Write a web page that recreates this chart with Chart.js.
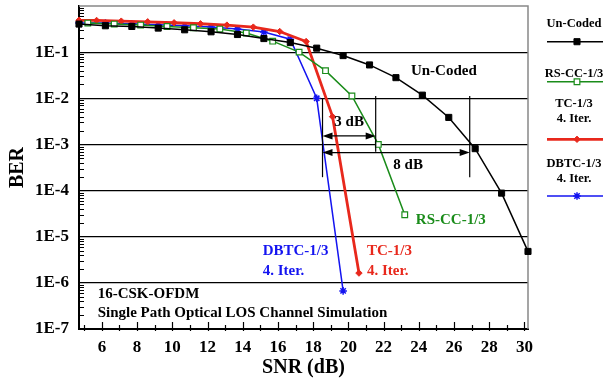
<!DOCTYPE html>
<html>
<head>
<meta charset="utf-8">
<script src="https://cdn.jsdelivr.net/npm/chart.js@4.4.0/dist/chart.umd.min.js"></script>
<style>
html,body{margin:0;padding:0;background:#fff}
canvas{display:block}
</style>
</head>
<body>
<canvas id="berChart" width="607" height="383"></canvas>
<script>
// ---- data ----
const snrUncoded = [4.7,6.2,7.7,9.2,10.7,12.2,13.7,15.2,16.7,18.2,19.7,21.2,22.7,24.2,25.7,27.2,28.7,30.2];
const berUncoded = [0.406,0.373,0.36,0.332,0.305,0.276,0.241,0.197,0.161,0.122,0.0842,0.0528,0.028,0.0117,0.00385,8.1e-4,8.8e-5,4.8e-6];

const snrRsCc = [5.2,6.7,8.2,9.7,11.2,12.7,14.2,15.7,17.2,18.7,20.2,21.7,23.2];
const berRsCc = [0.426,0.406,0.386,0.36,0.337,0.316,0.259,0.173,0.1,0.0397,0.0112,1.0e-3,3.0e-5];

const snrTc = [4.7,5.7,7.1,8.6,10.1,11.6,13.1,14.6,16.1,17.6,19.1,20.6];
const berTc = [0.49,0.486,0.47,0.455,0.433,0.412,0.386,0.349,0.28,0.17,0.004,1.63e-6];

const snrDbtc = [4.7,6.2,7.7,9.2,10.7,12.2,13.7,15.2,16.7,18.2,19.7];
const berDbtc = [0.426,0.426,0.412,0.393,0.373,0.349,0.316,0.272,0.191,0.01,6.7e-7];

const seriesNames = [["Un-Coded"],["RS-CC-1/3"],["TC-1/3","4. Iter."],["DBTC-1/3","4. Iter."]];

const xTickLabels = [6,8,10,12,14,16,18,20,22,24,26,28,30];
const yTickValues = [1e-1,1e-2,1e-3,1e-4,1e-5,1e-6,1e-7];
const yTickLabels = ["1E-1","1E-2","1E-3","1E-4","1E-5","1E-6","1E-7"];

const SERIF = "'Liberation Serif','Times New Roman',serif";
const GREEN = "#1a8c1a", RED = "#e8281c", BLUE = "#1414f0";

function pts(xs, ys){ return xs.map((x,i)=>({x:x, y:ys[i]})); }

// text notes inside the plot (data coordinates)
const notes = [
  {text:"Un-Coded", x:23.55, y:0.039, color:"#000"},
  {text:"RS-CC-1/3", x:23.83, y:2.24e-5, color:GREEN},
  {text:"TC-1/3", x:21.05, y:4.76e-6, color:RED},
  {text:"4. Iter.", x:21.05, y:1.77e-6, color:RED},
  {text:"DBTC-1/3", x:15.13, y:4.76e-6, color:BLUE},
  {text:"4. Iter.", x:15.13, y:1.77e-6, color:BLUE},
  {text:"3 dB", x:19.2, y:0.003, color:"#000"},
  {text:"8 dB", x:22.55, y:3.5e-4, color:"#000"},
  {text:"16-CSK-OFDM", x:5.76, y:5.7e-7, color:"#000"},
  {text:"Single Path Optical LOS Channel Simulation", x:5.76, y:2.2e-7, color:"#000"}
];
const markLines = [
  {x:18.53, y1:1.01e-2, y2:1.95e-4},
  {x:21.55, y1:1.12e-2, y2:6.9e-4},
  {x:26.89, y1:1.12e-2, y2:1.95e-4}
];
const arrows = [
  {x1:18.53, x2:21.55, y:1.53e-3},
  {x1:18.53, x2:26.89, y:6.65e-4}
];

function arrowHead(ctx, x, y, dir){
  ctx.beginPath();
  ctx.moveTo(x, y);
  ctx.lineTo(x - dir*10, y - 3.5);
  ctx.lineTo(x - dir*10, y + 3.5);
  ctx.closePath();
  ctx.fill();
}

const decor = {
  id: "decor",
  beforeDatasetsDraw(chart){
    const {ctx, chartArea:a, scales:{x, y}} = chart;
    ctx.save();
    // frame top / right
    ctx.strokeStyle = "#888"; ctx.lineWidth = 1.5;
    ctx.beginPath();
    ctx.moveTo(a.left, a.top); ctx.lineTo(a.right, a.top); ctx.lineTo(a.right, a.bottom);
    ctx.stroke();
    // inner ticks
    ctx.strokeStyle = "#000"; ctx.lineWidth = 1;
    for (let k = -7; k < 0; k++){
      for (let m = 2; m <= 9; m++){
        const py = Math.round(y.getPixelForValue(m*Math.pow(10,k))) + 0.5;
        ctx.beginPath(); ctx.moveTo(a.left, py); ctx.lineTo(a.left + 5, py); ctx.stroke();
      }
    }
    ctx.lineWidth = 1.2;
    for (let v = 5; v <= 30; v++){
      const px = Math.round(x.getPixelForValue(v)) + 0.5;
      const len = v % 2 === 0 ? 7 : 4;
      ctx.beginPath(); ctx.moveTo(px, a.bottom + 2); ctx.lineTo(px, a.bottom - len); ctx.stroke();
    }
    ctx.restore();
  },
  afterDatasetsDraw(chart){
    const {ctx, chartArea:a, scales:{x, y}} = chart;
    ctx.save();
    // reference lines and arrows
    ctx.strokeStyle = "#000"; ctx.fillStyle = "#000"; ctx.lineWidth = 1.2;
    markLines.forEach(l=>{
      const px = x.getPixelForValue(l.x);
      ctx.beginPath(); ctx.moveTo(px, y.getPixelForValue(l.y1)); ctx.lineTo(px, y.getPixelForValue(l.y2)); ctx.stroke();
    });
    arrows.forEach(r=>{
      const x1 = x.getPixelForValue(r.x1), x2 = x.getPixelForValue(r.x2), py = y.getPixelForValue(r.y);
      ctx.beginPath(); ctx.moveTo(x1 + 4, py); ctx.lineTo(x2 - 4, py); ctx.stroke();
      arrowHead(ctx, x1, py, -1);
      arrowHead(ctx, x2, py, 1);
    });
    // notes
    ctx.font = "bold 15px " + SERIF;
    ctx.textAlign = "left"; ctx.textBaseline = "middle";
    notes.forEach(n=>{
      ctx.fillStyle = n.color;
      ctx.fillText(n.text, x.getPixelForValue(n.x), y.getPixelForValue(n.y));
    });
    // axis titles
    ctx.fillStyle = "#000";
    ctx.font = "bold 20px " + SERIF;
    ctx.textAlign = "center";
    ctx.fillText("SNR (dB)", (a.left + a.right)/2, 368);
    ctx.save();
    ctx.translate(17.5, (a.top + a.bottom)/2);
    ctx.rotate(-Math.PI/2);
    ctx.fillText("BER", 0, 0);
    ctx.restore();
    // legend on the right
    const legX1 = a.right + 19, legX2 = a.right + 75, legMid = a.right + 46;
    const textRows = [[23.5],[73.5],[104,118.5],[164,178.5]];
    const lineRows = [41.7, 81.7, 139.3, 196];
    ctx.font = "bold 12.5px " + SERIF;
    chart.data.datasets.forEach((ds, i)=>{
      ctx.fillStyle = "#000";
      seriesNames[i].forEach((t, j)=> ctx.fillText(t, legMid, textRows[i][j]));
      ctx.strokeStyle = ds.borderColor; ctx.lineWidth = ds.borderWidth;
      ctx.beginPath(); ctx.moveTo(legX1, lineRows[i]); ctx.lineTo(legX2, lineRows[i]); ctx.stroke();
      ctx.fillStyle = ds.pointBackgroundColor;
      ctx.strokeStyle = ds.pointBorderColor; ctx.lineWidth = ds.pointBorderWidth;
      Chart.helpers.drawPoint(ctx, {pointStyle: ds.pointStyle, radius: ds.pointRadius, borderWidth: ds.pointBorderWidth, rotation: 0}, legMid + 3, lineRows[i]);
    });
    ctx.restore();
  }
};

new Chart(document.getElementById("berChart"), {
  type: "scatter",
  data: {
    datasets: [
      {label:"Un-Coded", data: pts(snrUncoded, berUncoded), showLine:true, borderColor:"#000", borderWidth:1.5,
       pointStyle:"rect", pointRadius:4.3, pointBackgroundColor:"#000", pointBorderColor:"#000", pointBorderWidth:1, clip:false},
      {label:"RS-CC-1/3", data: pts(snrRsCc, berRsCc), showLine:true, borderColor:GREEN, borderWidth:1.5,
       pointStyle:"rect", pointRadius:4, pointBackgroundColor:"#fff", pointBorderColor:GREEN, pointBorderWidth:1.2, clip:false},
      {label:"TC-1/3", data: pts(snrTc, berTc), showLine:true, borderColor:RED, borderWidth:2.8,
       pointStyle:"rectRot", pointRadius:3.2, pointBackgroundColor:RED, pointBorderColor:RED, pointBorderWidth:1, clip:false},
      {label:"DBTC-1/3", data: pts(snrDbtc, berDbtc), showLine:true, borderColor:BLUE, borderWidth:1.5,
       pointStyle:"star", pointRadius:3.8, pointBackgroundColor:BLUE, pointBorderColor:BLUE, pointBorderWidth:1.5, clip:false}
    ]
  },
  options: {
    responsive: false,
    animation: false,
    devicePixelRatio: 1,
    layout: { padding: { top: 6, right: 79, left: 0, bottom: 0 } },
    plugins: { legend: { display: false }, tooltip: { enabled: false } },
    scales: {
      x: {
        type: "linear", min: 4.7, max: 30.2,
        afterBuildTicks: s => { s.ticks = xTickLabels.map(v => ({value: v})); },
        afterFit: s => { s.height = 54; s.paddingLeft = 0; s.paddingRight = 0; },
        grid: { display: false, drawTicks: false },
        border: { display: true, color: "#000", width: 2 },
        ticks: { color: "#000", padding: 8, maxRotation: 0, autoSkip: false,
                 font: { family: SERIF, size: 17, weight: "bold" } }
      },
      y: {
        type: "logarithmic", min: 1e-7, max: 1,
        afterBuildTicks: s => { s.ticks = yTickValues.map(v => ({value: v})); },
        afterFit: s => { s.width = 79; s.paddingTop = 0; s.paddingBottom = 0; },
        grid: { color: "#000", lineWidth: 1.2, drawTicks: false },
        border: { display: true, color: "#000", width: 2 },
        ticks: { color: "#000", padding: 10, autoSkip: false,
                 callback: (v, i) => yTickLabels[i],
                 font: { family: SERIF, size: 17, weight: "bold" } }
      }
    }
  },
  plugins: [decor]
});
</script>
</body>
</html>
